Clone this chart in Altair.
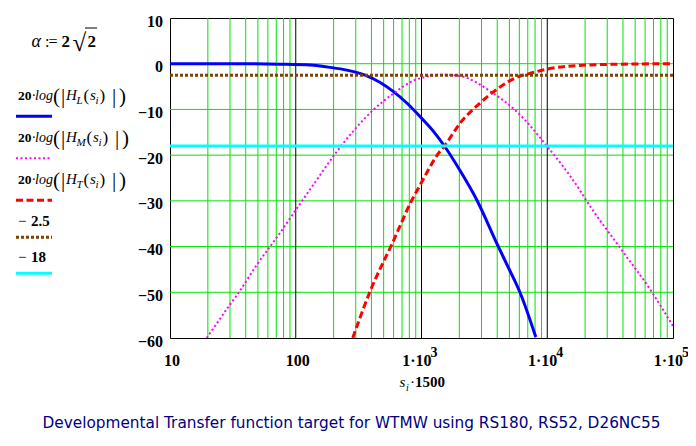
import altair as alt
import pandas as pd

# ---------------- data ----------------
hl_f = [10, 40, 75, 130, 187.5, 255, 355, 469, 599, 764, 1000, 1245, 1521, 2028, 2754, 4018, 5070, 6083, 8110]
hl_db = [0, -0.02, -0.1, -0.3, -0.8, -1.4, -2.5, -4.1, -6.1, -8.6, -11.9, -14.8, -18.0, -23.4, -29.8, -39.6, -45.4, -50.1, -59.8]

hm_f = [19.6, 30, 34.9, 49, 75, 100, 147, 202, 414, 599, 863, 1035, 1500, 2028, 3733, 5730, 9935, 17700, 20650, 38000, 65900, 100000]
hm_db = [-60, -52.7, -50.2, -44.0, -37.0, -32.0, -25.4, -20.0, -10.1, -6.5, -3.7, -3.0, -2.4, -2.7, -6.5, -10.5, -18.0, -27.2, -30.1, -40.3, -49.4, -57.4]

ht_f = [284, 390, 588, 847, 1000, 1124, 1324, 1542, 2028, 2925, 3970, 6083, 6890, 9935, 17200, 38000, 100000]
ht_db = [-60, -49.8, -39.2, -29.6, -26.0, -23.4, -20.1, -17.8, -13.0, -8.6, -5.6, -2.7, -2.3, -1.2, -0.4, -0.1, 0]

level_a = [-2.5]
level_b = [-18]

major_f = [100, 1000, 10000]
minor_f = [m * 10 ** d for d in range(1, 5) for m in range(2, 10)]
hgrid = [0, -10, -20, -30, -40, -50]

ytick_vals = [10, 0, -10, -20, -30, -40, -50, -60]
ytick_txt = ["10", "0", "\u221210", "\u221220", "\u221230", "\u221240", "\u221250", "\u221260"]
xtick_vals = [10, 100, 1000, 10000, 100000]
xtick_base = ["10", "100", "1\u00b710", "1\u00b710", "1\u00b710"]
xtick_sup = ["", "", "3", "4", "5"]

caption = "Developmental Transfer function target for WTMW using RS180, RS52, D26NC55"

# ---------------- scales ----------------
xs = alt.Scale(type="log", domain=[10, 100000], nice=False)
ys = alt.Scale(domain=[-60, 10], nice=False, zero=False)
SERIF = "Liberation Serif"
GREEN = "#00e600"

layers = []

# grid
layers.append(alt.Chart(pd.DataFrame({"f": minor_f})).mark_rule(color=GREEN, strokeWidth=1).encode(
    x=alt.X("f:Q", scale=xs, axis=None)))
layers.append(alt.Chart(pd.DataFrame({"y": hgrid})).mark_rule(color=GREEN, strokeWidth=1).encode(
    y=alt.Y("y:Q", scale=ys, axis=None)))
layers.append(alt.Chart(pd.DataFrame({"f": major_f})).mark_rule(color="black", strokeWidth=1).encode(
    x=alt.X("f:Q", scale=xs, axis=None)))


def curve(f, db, color, width, dash=None):
    mk = dict(color=color, strokeWidth=width, interpolate="monotone", clip=True, strokeCap="butt")
    if dash:
        mk["strokeDash"] = dash
    return alt.Chart(pd.DataFrame({"f": f, "db": db})).mark_line(**mk).encode(
        x=alt.X("f:Q", scale=xs, axis=None), y=alt.Y("db:Q", scale=ys, axis=None))


layers.append(curve(hl_f, hl_db, "#0000ff", 3))
layers.append(curve(hm_f, hm_db, "#ff00ff", 2, [2, 2.5]))
layers.append(curve(ht_f, ht_db, "#ff0000", 3, [7, 3.5]))
layers.append(alt.Chart(pd.DataFrame({"y": level_a})).mark_rule(color="#804000", strokeWidth=3, strokeDash=[3, 2]).encode(
    y=alt.Y("y:Q", scale=ys, axis=None)))
layers.append(alt.Chart(pd.DataFrame({"y": level_b})).mark_rule(color="#00ffff", strokeWidth=3).encode(
    y=alt.Y("y:Q", scale=ys, axis=None)))

# axis labels
ydf = pd.DataFrame({"v": ytick_vals, "t": ytick_txt})
layers.append(alt.Chart(ydf).mark_text(font=SERIF, fontSize=16, fontWeight="bold", align="right",
                                       baseline="alphabetic", dx=-7, dy=8.5).encode(
    y=alt.Y("v:Q", scale=ys, axis=None), x=alt.value(0), text="t:N"))
xdf = pd.DataFrame({"v": xtick_vals, "b": xtick_base, "s": xtick_sup})
layers.append(alt.Chart(xdf[xdf.s == ""]).mark_text(font=SERIF, fontSize=16, fontWeight="bold", align="center",
                                                    baseline="alphabetic", dx=2).encode(
    x=alt.X("v:Q", scale=xs, axis=None), y=alt.value(348), text="b:N"))
layers.append(alt.Chart(xdf[xdf.s != ""]).mark_text(font=SERIF, fontSize=16, fontWeight="bold", align="right",
                                                    baseline="alphabetic", dx=10).encode(
    x=alt.X("v:Q", scale=xs, axis=None), y=alt.value(348), text="b:N"))
layers.append(alt.Chart(xdf[xdf.s != ""]).mark_text(font=SERIF, fontSize=14, fontWeight="bold", align="left",
                                                    baseline="alphabetic", dx=9).encode(
    x=alt.X("v:Q", scale=xs, axis=None), y=alt.value(338.5), text="s:N"))

dummy = pd.DataFrame({"d": [0]})


def txt(s, x, y, size=15, bold=False, italic=False, align="left", color="black", font=SERIF):
    return alt.Chart(dummy).mark_text(text=s, font=font, fontSize=size,
                                      fontWeight="bold" if bold else "normal",
                                      fontStyle="italic" if italic else "normal",
                                      align=align, baseline="alphabetic", color=color).encode(
        x=alt.value(x), y=alt.value(y))


def lrule(x1, x2, y, color, width, dash=None):
    mk = dict(color=color, strokeWidth=width, strokeCap="butt")
    if dash:
        mk["strokeDash"] = dash
    return alt.Chart(dummy).mark_rule(**mk).encode(x=alt.value(x1), x2=alt.value(x2), y=alt.value(y))


# x title
layers += [txt("s", 229.5, 368.5, 15, italic=True), txt("i", 236, 373, 10, italic=True),
           txt("\u00b7", 240, 368.5, 15), txt("1500", 245, 368.5, 15, bold=True)]

# alpha definition
layers += [txt("\u03b1", -138.5, 29, 18, italic=True), txt(":", -125, 29, 16), txt("=", -121.5, 29, 16),
           txt("2", -108.5, 29, 17, bold=True), txt("\u221a", -97.5, 33, 25),
           lrule(-85, -73, 10, "black", 1), txt("2", -82.5, 29, 17, bold=True)]


def expr(sub, y, shift):
    return [
        txt("20", -152, y, 13.5, bold=True),
        txt("\u00b7", -138.5, y, 14),
        txt("log", -135, y, 14, italic=True),
        txt("(", -117, y + 3, 21),
        txt("|", -109, y + 3, 21),
        txt("H", -104, y, 15, italic=True),
        txt(sub, -93.5, y + 4, 11, italic=True),
        txt("(", -86.5 + shift, y + 1, 17),
        txt("s", -80 + shift, y, 15, italic=True),
        txt("i", -74.5 + shift, y + 4, 11, italic=True),
        txt(")", -70.5 + shift, y + 1, 17),
        txt("|", -58 + shift, y + 3, 21),
        txt(")", -51 + shift, y + 3, 21),
    ]


layers += expr("L", 82, 0)
layers.append(lrule(-154, -118, 98.3, "#0000ff", 3))
layers += expr("M", 123.7, 3)
layers.append(lrule(-154, -118, 140.3, "#ff00ff", 2, [2, 2.5]))
layers += expr("T", 166.3, 0)
layers.append(lrule(-154, -118, 182.3, "#ff0000", 3, [7, 3.5]))
layers += [txt("\u2212", -152, 207.7, 15), txt("2.5", -139, 207.7, 15, bold=True)]
layers.append(lrule(-154, -118, 219.3, "#804000", 3, [3, 2]))
layers += [txt("\u2212", -152, 244.3, 15), txt("18", -139, 244.3, 15, bold=True)]
layers.append(lrule(-154, -118, 255.3, "#00ffff", 3))

# caption
layers.append(txt(caption, 181.5, 410, 15.3, align="center", color="#000080", font="DejaVu Sans"))

chart = alt.layer(*layers).properties(
    width=503, height=320,
    padding={"left": 162, "top": 10, "right": 15, "bottom": 100},
    autosize=alt.AutoSizeParams(type="none"),
    background="white",
).configure_view(stroke="black", strokeWidth=1)

chart.save("out.html", embed_options={"renderer": "svg", "actions": False})
